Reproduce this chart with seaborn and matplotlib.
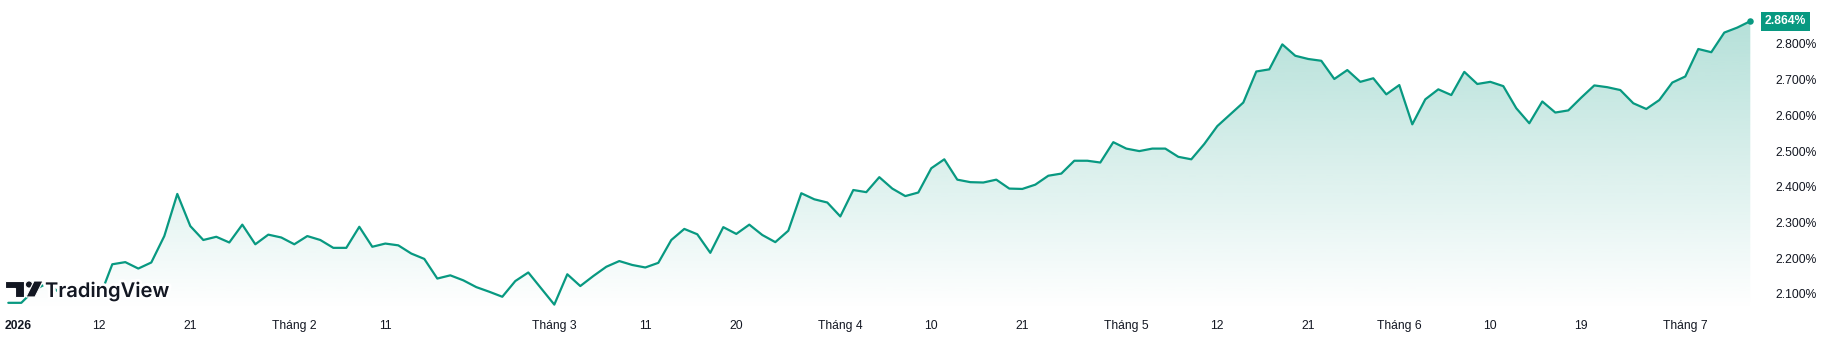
import numpy as np
import pandas as pd
import matplotlib
matplotlib.use("Agg")
import matplotlib.pyplot as plt
import matplotlib.patches as mpatches
import matplotlib.patheffects as pe
import matplotlib.transforms as mtransforms
import seaborn as sns

# ---- data (daily yield, %) ----
start_date = "2026-01-01"
values = [
    2.075, 2.075, 2.111, 2.130, 2.102, 2.094, 2.092, 2.088, 2.183, 2.189,
    2.171, 2.188, 2.262, 2.380, 2.290, 2.251, 2.260, 2.244, 2.294, 2.239,
    2.266, 2.258, 2.239, 2.262, 2.251, 2.229, 2.229, 2.288, 2.232, 2.241,
    2.236, 2.213, 2.198, 2.143, 2.152, 2.138, 2.119, 2.106, 2.092, 2.136,
    2.160, 2.115, 2.070, 2.155, 2.122, 2.150, 2.176, 2.192, 2.181, 2.174,
    2.187, 2.251, 2.282, 2.267, 2.215, 2.287, 2.268, 2.294, 2.265, 2.245,
    2.277, 2.382, 2.365, 2.356, 2.317, 2.391, 2.385, 2.427, 2.395, 2.374,
    2.384, 2.452, 2.477, 2.420, 2.413, 2.412, 2.420, 2.395, 2.394, 2.406,
    2.431, 2.437, 2.473, 2.473, 2.468, 2.525, 2.507, 2.500, 2.507, 2.507,
    2.484, 2.477, 2.520, 2.570, 2.603, 2.636, 2.723, 2.729, 2.799, 2.767,
    2.758, 2.753, 2.702, 2.727, 2.694, 2.704, 2.659, 2.685, 2.575, 2.645,
    2.673, 2.657, 2.722, 2.688, 2.694, 2.682, 2.620, 2.578, 2.639, 2.608,
    2.614, 2.650, 2.684, 2.679, 2.671, 2.634, 2.618, 2.643, 2.692, 2.709,
    2.786, 2.777, 2.832, 2.846, 2.864,
]
tick_dates = ["2026-01-01", "2026-01-12", "2026-01-21", "2026-02-02", "2026-02-11",
              "2026-03-02", "2026-03-11", "2026-03-20", "2026-04-01", "2026-04-10",
              "2026-04-21", "2026-05-01", "2026-05-12", "2026-05-21", "2026-06-01",
              "2026-06-10", "2026-06-19", "2026-07-01"]
tick_labels = ["2026", "12", "21", "Tháng 2", "11", "Tháng 3", "11", "20", "Tháng 4",
               "10", "21", "Tháng 5", "12", "21", "Tháng 6", "10", "19", "Tháng 7"]
ytick_values = [2.1, 2.2, 2.3, 2.4, 2.5, 2.6, 2.7, 2.8]
last_label = "2.864%"

# ---- style ----
sns.set_theme(style="white")
plt.rcParams["font.family"] = ["Liberation Sans", "DejaVu Sans"]
GREEN = "#089981"
TXT = "#131722"

dates = pd.bdate_range(start_date, periods=len(values))
idx = np.arange(len(values))
df = pd.DataFrame({"i": idx, "v": values})
date_to_i = {d.strftime("%Y-%m-%d"): i for i, d in enumerate(dates)}
tick_idx = [date_to_i[d] for d in tick_dates]

W, H = 1821, 357
fig = plt.figure(figsize=(W / 100, H / 100), dpi=100)
fig.patch.set_facecolor("white")
ax = fig.add_axes([0, 47 / H, 1760 / W, 310 / H])
ax.set_facecolor("white")

px_per_day = 13.0
x0 = -8.3 / px_per_day
x1 = x0 + 1760 / px_per_day
y_top = 2.8 + 44 / 357
y_bot = 2.8 - (310 - 44) / 357

# gradient fill under the line
poly = ax.fill_between(df["i"], df["v"], y_bot, facecolor="none", edgecolor="none")
vmax = max(values)
n = 256
grad = np.zeros((n, 1, 4))
rgb = matplotlib.colors.to_rgb(GREEN)
grad[:, 0, 0] = rgb[0]
grad[:, 0, 1] = rgb[1]
grad[:, 0, 2] = rgb[2]
grad[:, 0, 3] = np.linspace(0.0, 0.30, n)
im = ax.imshow(grad, extent=[x0, x1, y_bot, vmax], origin="lower",
               aspect="auto", zorder=1, interpolation="bilinear")
im.set_clip_path(poly.get_paths()[0], transform=ax.transData)

sns.lineplot(data=df, x="i", y="v", ax=ax, color=GREEN, linewidth=1.6, zorder=3)
ax.scatter([idx[-1]], [values[-1]], s=22, color=GREEN, zorder=4, linewidths=0)
ax.set_xlim(x0, x1)
ax.set_ylim(y_bot, y_top)

# axes styling
for s in ax.spines.values():
    s.set_visible(False)
ax.set_xlabel("")
ax.set_ylabel("")
ax.grid(False)
ax.yaxis.tick_right()
ax.set_yticks(ytick_values)
ax.set_yticklabels([f"{v:.3f}%" for v in ytick_values])
ax.tick_params(axis="y", length=0, pad=11, labelsize=8.7, labelcolor=TXT)
ax.set_xticks(tick_idx)
ax.set_xticklabels(tick_labels)
ax.tick_params(axis="x", length=0, pad=7, labelsize=8.7, labelcolor=TXT)
xl = ax.get_xticklabels()
xl[0].set_horizontalalignment("left")
xl[0].set_fontweight("bold")
xl[0].set_transform(xl[0].get_transform() + mtransforms.ScaledTranslation(-4 / 100, 0, fig.dpi_scale_trans))

# last value badge
badge_tr = mtransforms.blended_transform_factory(ax.transAxes, ax.transData) + \
    mtransforms.ScaledTranslation(5 / 100, 0, fig.dpi_scale_trans)
ax.text(1.0, values[-1], last_label, transform=badge_tr, ha="left", va="center",
        fontsize=8.7, color="white", fontweight="bold", clip_on=False, zorder=6,
        bbox=dict(boxstyle="square,pad=0.3", facecolor=GREEN, edgecolor="none"))

# TradingView logo (decoration)
def fx(px):
    return px / W

def fy(py):
    return 1 - py / H

LOGO = "#131722"
halo = [pe.withStroke(linewidth=4, foreground="white")]
bar = mpatches.Polygon([(fx(5), fy(281)), (fx(24), fy(281)), (fx(24), fy(297)),
                        (fx(15), fy(297)), (fx(15), fy(288)), (fx(5), fy(288))],
                       closed=True, transform=fig.transFigure, facecolor=LOGO,
                       edgecolor="white", linewidth=0.8, zorder=10)
fig.patches.append(bar)
dot = mpatches.Ellipse((fx(29), fy(284.5)), 7 / W, 7 / H, transform=fig.transFigure,
                       facecolor=LOGO, edgecolor="white", linewidth=0.6, zorder=10)
fig.patches.append(dot)
slash = mpatches.Polygon([(fx(34), fy(281)), (fx(43), fy(281)), (fx(35), fy(297)),
                          (fx(26), fy(297))], closed=True, transform=fig.transFigure,
                         facecolor=LOGO, edgecolor="white", linewidth=0.8, zorder=10)
fig.patches.append(slash)
fig.text(fx(45), fy(297), "TradingView", fontsize=14.5, fontweight="semibold",
         family=["Inter", "DejaVu Sans"], color=LOGO, ha="left", va="baseline",
         path_effects=halo, zorder=11)

fig.savefig("out.png", dpi=100, facecolor="white")
